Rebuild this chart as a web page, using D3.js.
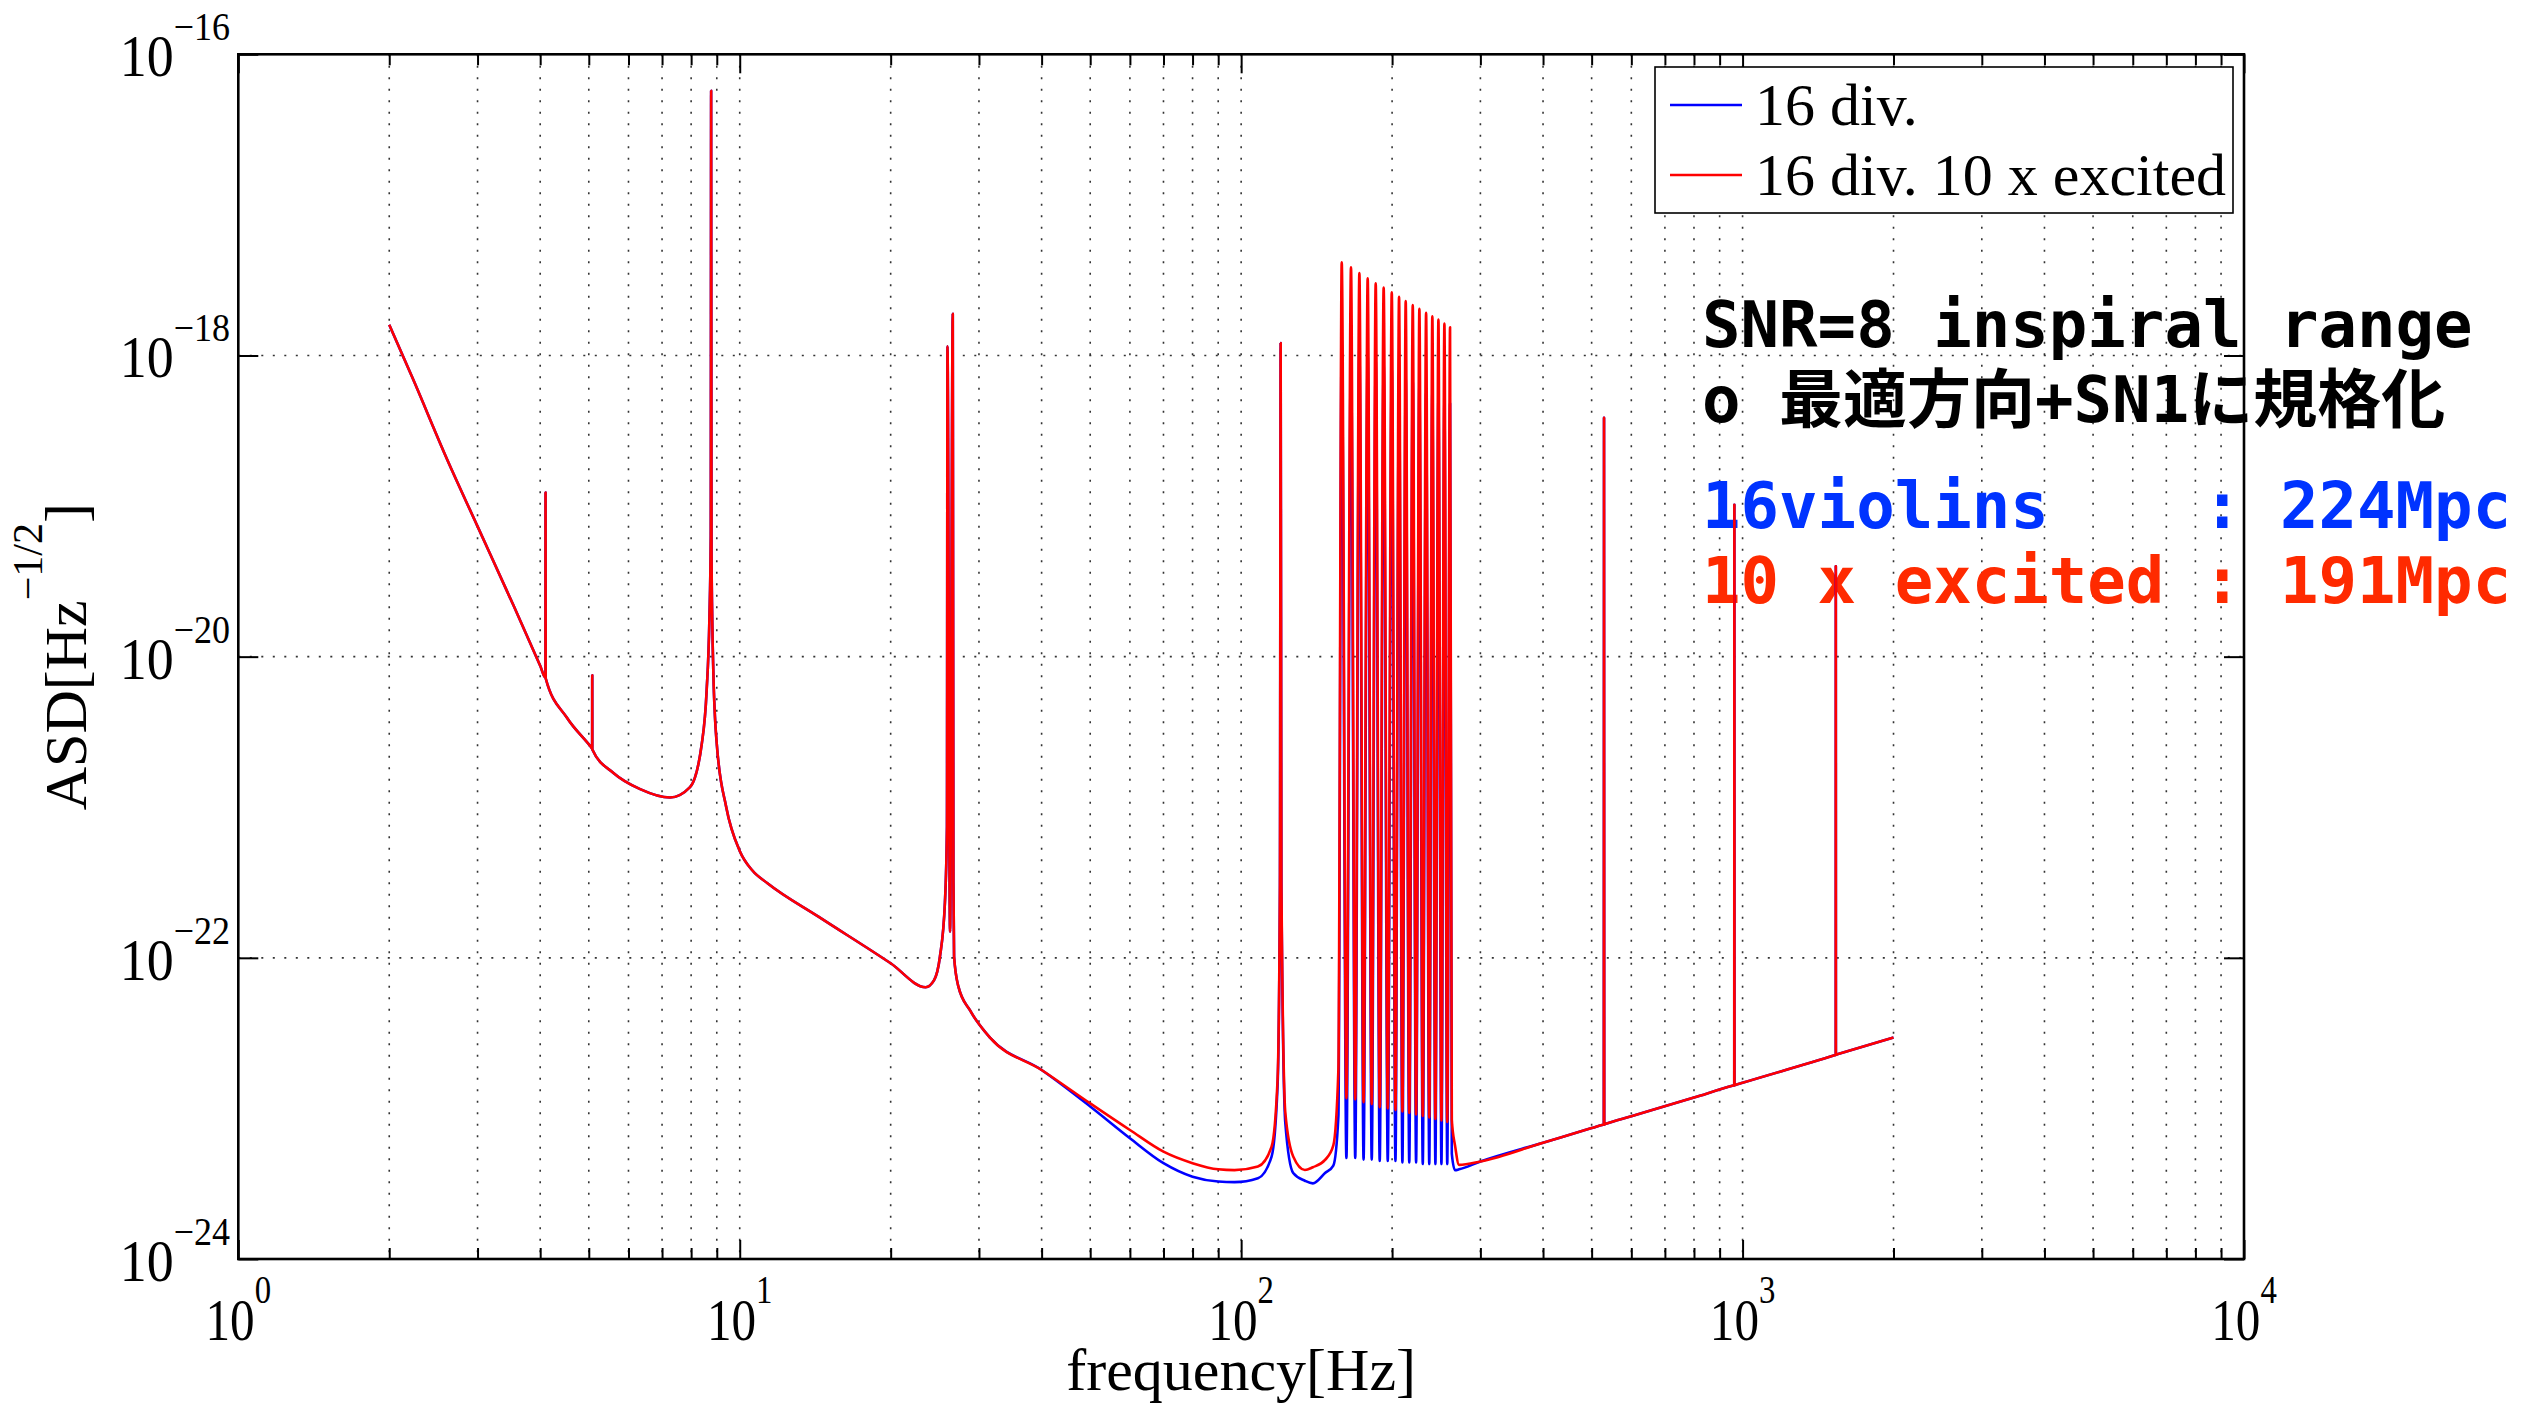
<!DOCTYPE html>
<html>
<head>
<meta charset="utf-8">
<script src="https://cdn.jsdelivr.net/npm/d3@7"></script>
<style>
body { margin: 0; background: #fff; }
svg { display: block; }
.tick line { stroke: #000; stroke-width: 2; }
</style>
</head>
<body>
<div id="chart"></div>
<script>
// values (Hz, ASD in 1/sqrt(Hz))
var freq = [
  2.0, 2.234, 2.604, 3.0, 3.536, 4.0, 4.098, 4.1, 4.102, 4.52,
  5.05, 5.078, 5.08, 5.082, 5.6, 6.33, 7.26, 7.96, 8.4, 8.59,
  8.7, 8.755, 8.77, 8.785, 8.82, 8.86, 9.0, 9.4, 10, 10.6,
  11.36, 14.38, 20, 23.49, 24.4, 25.08, 25.66, 25.9, 25.96, 26.27,
  26.6, 26.68, 26.76, 27.29, 28.8, 31.56, 40, 50, 60, 70,
  80, 90, 97, 108, 115, 118.2, 119.5, 119.9, 120.3, 122.5,
  127, 134, 139, 147, 152.7, 156.3, 158.7, 162.15, 165.6, 168.85,
  172.1, 175.45, 178.8, 182.15, 185.5, 188.95, 192.4, 196.05, 199.7, 203.1,
  206.5, 209.7, 212.9, 216.4, 219.9, 223.3, 226.7, 230.25, 233.8, 237.2,
  240.6, 244.0, 247.4, 250.85, 254.3, 257.65, 261.0, 263.1, 267, 272,
  300, 400, 500, 527, 528.8, 529.3, 529.8, 532, 600, 800,
  958, 962.5, 963, 963.5, 968, 1000, 1525, 1534, 1534.5, 1535,
  1545, 2000
];

var asdRed = [
  1.60e-18, 6.89e-19, 2.07e-19, 7.33e-20, 2.20e-20, 8.71e-21, 7.24e-21, 1.23e-19, 7.19e-21, 3.94e-21,
  2.51e-21, 2.45e-21, 7.52e-21, 2.42e-21, 1.69e-21, 1.32e-21, 1.16e-21, 1.36e-21, 2.63e-21, 5.94e-21,
  1.78e-20, 6.31e-20, 5.73e-17, 5.01e-20, 1.58e-20, 7.82e-21, 2.63e-21, 1.00e-21, 5.13e-22, 3.80e-22,
  3.13e-22, 1.87e-22, 9.20e-23, 6.38e-23, 7.08e-23, 1.02e-22, 2.34e-22, 7.41e-22, 1.15e-18, 1.49e-22,
  1.89e-18, 3.16e-22, 1.02e-22, 6.46e-23, 4.47e-23, 2.95e-23, 1.80e-23, 1.08e-23, 7.19e-24, 5.16e-24,
  4.33e-24, 3.94e-24, 3.89e-24, 4.11e-24, 5.57e-24, 1.55e-23, 3.16e-22, 1.21e-18, 3.16e-22, 9.33e-24,
  4.79e-24, 3.90e-24, 4.07e-24, 4.55e-24, 5.68e-24, 1.82e-23, 4.16e-18, 1.17e-23, 3.85e-18, 1.15e-23,
  3.52e-18, 1.10e-23, 3.26e-18, 1.07e-23, 3.01e-18, 1.02e-23, 2.82e-18, 1.00e-23, 2.63e-18, 9.77e-24,
  2.45e-18, 9.55e-24, 2.30e-18, 9.33e-24, 2.16e-18, 9.12e-24, 2.04e-18, 8.91e-24, 1.92e-18, 8.71e-24,
  1.82e-18, 8.51e-24, 1.73e-18, 8.32e-24, 1.63e-18, 8.13e-24, 1.54e-18, 8.38e-24, 5.68e-24, 4.22e-24,
  4.44e-24, 5.92e-24, 7.40e-24, 7.80e-24, 7.82e-24, 3.85e-19, 7.83e-24, 7.87e-24, 8.87e-24, 1.18e-23,
  1.417e-23, 1.423e-23, 1.02e-19, 1.426e-23, 1.432e-23, 1.48e-23, 2.254e-23, 2.268e-23, 3.98e-20, 2.272e-23,
  2.287e-23, 2.96e-23
];

var asdBlue = [
  1.60e-18, 6.89e-19, 2.07e-19, 7.33e-20, 2.20e-20, 8.71e-21, 7.24e-21, 1.23e-19, 7.19e-21, 3.94e-21,
  2.51e-21, 2.45e-21, 7.52e-21, 2.42e-21, 1.69e-21, 1.32e-21, 1.16e-21, 1.36e-21, 2.63e-21, 5.94e-21,
  1.78e-20, 6.31e-20, 5.73e-17, 5.01e-20, 1.58e-20, 7.82e-21, 2.63e-21, 1.00e-21, 5.13e-22, 3.80e-22,
  3.13e-22, 1.87e-22, 9.20e-23, 6.38e-23, 7.08e-23, 1.02e-22, 2.34e-22, 7.41e-22, 1.15e-18, 1.49e-22,
  1.89e-18, 3.16e-22, 1.02e-22, 6.46e-23, 4.47e-23, 2.95e-23, 1.80e-23, 1.03e-23, 6.34e-24, 4.33e-24,
  3.52e-24, 3.27e-24, 3.24e-24, 3.44e-24, 4.79e-24, 1.41e-23, 2.82e-22, 1.21e-18, 2.82e-22, 7.94e-24,
  3.72e-24, 3.31e-24, 3.18e-24, 3.72e-24, 4.17e-24, 8.91e-24, 1.29e-18, 4.68e-24, 1.17e-18, 4.68e-24,
  1.12e-18, 4.57e-24, 1.00e-18, 4.57e-24, 9.33e-19, 4.47e-24, 8.71e-19, 4.47e-24, 8.13e-19, 4.47e-24,
  7.59e-19, 4.37e-24, 7.08e-19, 4.37e-24, 6.76e-19, 4.37e-24, 6.31e-19, 4.27e-24, 5.62e-19, 4.27e-24,
  5.62e-19, 4.27e-24, 5.25e-19, 4.27e-24, 5.01e-19, 4.27e-24, 4.79e-19, 5.01e-24, 3.89e-24, 3.94e-24,
  4.44e-24, 5.92e-24, 7.40e-24, 7.80e-24, 7.82e-24, 3.85e-19, 7.83e-24, 7.87e-24, 8.87e-24, 1.18e-23,
  1.417e-23, 1.423e-23, 1.02e-19, 1.426e-23, 1.432e-23, 1.48e-23, 2.254e-23, 2.268e-23, 3.98e-20, 2.272e-23,
  2.287e-23, 2.96e-23
];

var xMajor = [1, 10, 100, 1000, 10000];
var xExp = ["0", "1", "2", "3", "4"];
var yMajor = [1e-16, 1e-18, 1e-20, 1e-22, 1e-24];
var yExp = ["\u221216", "\u221218", "\u221220", "\u221222", "\u221224"];
var seriesNames = ["16 div.", "16 div. 10 x excited"];
var seriesColors = ["#0000ff", "#ff0000"];
var noteLines = ["SNR=8 inspiral range", "o 最適方向+SN1に規格化"];
var rangeLines = ["16violins    : 224Mpc", "10 x excited : 191Mpc"];
var rangeColors = ["#0033ff", "#ff2a00"];

var W = 2539, H = 1405;
var plotL = 238.3, plotR = 2244, plotT = 54.3, plotB = 1259;

var svg = d3.select("#chart").append("svg")
    .attr("width", W)
    .attr("height", H);
svg.append("rect").attr("width", W).attr("height", H).attr("fill", "#fff");

var x = d3.scaleLog().domain([1, 1e4]).range([plotL, plotR]);
var y = d3.scaleLog().domain([1e-24, 1e-16]).range([plotB, plotT]);

// grid
var xAll = x.ticks();
var xMinor = xAll.filter(function(d) { return xMajor.indexOf(d) < 0; });
var grid = svg.append("g").attr("stroke", "#333").attr("stroke-width", 1.6)
    .attr("stroke-dasharray", "2,9.5");
grid.selectAll(".gx")
    .data(xAll.filter(function(d) { return d > 1 && d < 1e4; }))
    .enter().append("line")
    .attr("x1", function(d) { return x(d); })
    .attr("x2", function(d) { return x(d); })
    .attr("y1", plotT).attr("y2", plotB);
grid.selectAll(".gy")
    .data(yMajor.filter(function(d) { return d < 1e-16 && d > 1e-24; }))
    .enter().append("line")
    .attr("y1", function(d) { return y(d); })
    .attr("y2", function(d) { return y(d); })
    .attr("x1", plotL).attr("x2", plotR);

// annotation text
var notes = svg.append("g")
    .attr("font-family", "'DejaVu Sans Mono', 'Noto Sans CJK JP', monospace")
    .attr("font-weight", "bold")
    .attr("font-size", 64);
notes.selectAll(".n").data(noteLines).enter().append("text")
    .attr("x", 1702)
    .attr("y", function(d, i) { return [347, 422][i]; })
    .attr("fill", "#000")
    .text(function(d) { return d.replace(/ /g, "\u00a0"); });
notes.selectAll(".r").data(rangeLines).enter().append("text")
    .attr("x", 1702)
    .attr("y", function(d, i) { return [528, 603][i]; })
    .attr("fill", function(d, i) { return rangeColors[i]; })
    .text(function(d) { return d.replace(/ /g, "\u00a0"); });

// curves
svg.append("clipPath").attr("id", "plotclip").append("rect")
    .attr("x", plotL).attr("y", plotT).attr("width", plotR - plotL).attr("height", plotB - plotT);

var line = d3.line()
    .curve(d3.curveMonotoneX)
    .x(function(d) { return x(d[0]); })
    .y(function(d) { return y(d[1]); });

[asdBlue, asdRed].forEach(function(vals, i) {
    svg.append("path")
        .datum(freq.map(function(f, j) { return [f, vals[j]]; }))
        .attr("clip-path", "url(#plotclip)")
        .attr("fill", "none")
        .attr("stroke", seriesColors[i])
        .attr("stroke-width", 2.6)
        .attr("stroke-linejoin", "round")
        .attr("d", line);
});

// axes ticks (inward)
function clean(g) { g.select(".domain").remove(); }
svg.append("g").attr("transform", "translate(0," + plotB + ")")
    .call(d3.axisBottom(x).tickValues(xMajor).tickSize(-19).tickFormat("")).call(clean);
svg.append("g").attr("transform", "translate(0," + plotB + ")")
    .call(d3.axisBottom(x).tickValues(xMinor).tickSize(-11).tickFormat("")).call(clean);
svg.append("g").attr("transform", "translate(0," + plotT + ")")
    .call(d3.axisTop(x).tickValues(xMajor).tickSize(-19).tickFormat("")).call(clean);
svg.append("g").attr("transform", "translate(0," + plotT + ")")
    .call(d3.axisTop(x).tickValues(xMinor).tickSize(-11).tickFormat("")).call(clean);
svg.append("g").attr("transform", "translate(" + plotL + ",0)")
    .call(d3.axisLeft(y).tickValues(yMajor).tickSize(-20).tickFormat("")).call(clean);
svg.append("g").attr("transform", "translate(" + plotR + ",0)")
    .call(d3.axisRight(y).tickValues(yMajor).tickSize(-20).tickFormat("")).call(clean);

svg.append("rect")
    .attr("x", plotL).attr("y", plotT)
    .attr("width", plotR - plotL).attr("height", plotB - plotT)
    .attr("fill", "none").attr("stroke", "#000").attr("stroke-width", 2.6);

// tick labels
var serif = "'Liberation Serif', 'Times New Roman', serif";
xMajor.forEach(function(d, i) {
    var t = svg.append("text")
        .attr("transform", "translate(" + x(d) + ",1340) scale(0.82,1)")
        .attr("text-anchor", "middle")
        .attr("font-family", serif)
        .attr("font-size", 60);
    t.append("tspan").text("10");
    t.append("tspan").attr("font-size", 40).attr("dy", -37).text(xExp[i]);
});
yMajor.forEach(function(d, i) {
    var t = svg.append("text")
        .attr("transform", "translate(230," + (y(d) + 22) + ") scale(0.9,1)")
        .attr("text-anchor", "end")
        .attr("font-family", serif)
        .attr("font-size", 60);
    t.append("tspan").text("10");
    t.append("tspan").attr("font-size", 40).attr("dy", -36).text(yExp[i]);
});

// axis labels
svg.append("text")
    .attr("x", (plotL + plotR) / 2).attr("y", 1390)
    .attr("text-anchor", "middle")
    .attr("font-family", serif).attr("font-size", 60)
    .text("frequency[Hz]");
var yl = svg.append("text")
    .attr("transform", "translate(86," + (plotT + plotB) / 2 + ") rotate(-90)")
    .attr("text-anchor", "middle")
    .attr("font-family", serif).attr("font-size", 60);
yl.append("tspan").text("ASD[Hz");
yl.append("tspan").attr("font-size", 42).attr("dy", -44).text("\u22121/2");
yl.append("tspan").attr("dy", 44).text("]");

// legend
var lg = svg.append("g");
lg.append("rect")
    .attr("x", 1655).attr("y", 67).attr("width", 578).attr("height", 146)
    .attr("fill", "#fff").attr("stroke", "#000").attr("stroke-width", 1.6);
seriesNames.forEach(function(name, i) {
    var yy = 105 + i * 70;
    lg.append("line")
        .attr("x1", 1670).attr("x2", 1742).attr("y1", yy).attr("y2", yy)
        .attr("stroke", seriesColors[i]).attr("stroke-width", 2.6);
    lg.append("text")
        .attr("x", 1755).attr("y", yy + 20)
        .attr("font-family", serif).attr("font-size", 60)
        .text(name);
});
</script>
</body>
</html>
